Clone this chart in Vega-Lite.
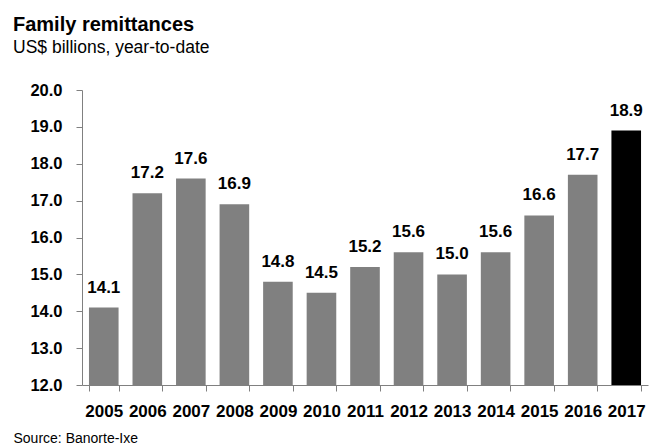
{
  "$schema": "https://vega.github.io/schema/vega-lite/v6.json",
  "width": 566,
  "height": 295,
  "autosize": "none",
  "padding": {"left": 82, "top": 90, "right": 2, "bottom": 61},
  "background": "white",
  "config": {"view": {"stroke": null}, "font": "Liberation Sans"},
  "title": {
    "text": "Family remittances",
    "subtitle": "US$ billions, year-to-date",
    "anchor": "start",
    "frame": "group",
    "dx": -69,
    "offset": 26,
    "font": "Liberation Sans",
    "fontSize": 20,
    "fontWeight": "bold",
    "color": "#000000",
    "subtitleFont": "Liberation Sans",
    "subtitleFontSize": 17.5,
    "subtitleColor": "#000000",
    "subtitlePadding": 4
  },
  "data": {
    "values": [
      {"year": "2005", "value": 14.1, "hl": "no"},
      {"year": "2006", "value": 17.2, "hl": "no"},
      {"year": "2007", "value": 17.6, "hl": "no"},
      {"year": "2008", "value": 16.9, "hl": "no"},
      {"year": "2009", "value": 14.8, "hl": "no"},
      {"year": "2010", "value": 14.5, "hl": "no"},
      {"year": "2011", "value": 15.2, "hl": "no"},
      {"year": "2012", "value": 15.6, "hl": "no"},
      {"year": "2013", "value": 15.0, "hl": "no"},
      {"year": "2014", "value": 15.6, "hl": "no"},
      {"year": "2015", "value": 16.6, "hl": "no"},
      {"year": "2016", "value": 17.7, "hl": "no"},
      {"year": "2017", "value": 18.9, "hl": "yes"}
    ]
  },
  "encoding": {
    "x": {
      "field": "year",
      "type": "nominal",
      "scale": {"paddingInner": 0.32, "paddingOuter": 0.16},
      "axis": {
        "title": "Source: Banorte-Ixe",
        "titleFont": "Liberation Sans",
        "titleFontSize": 14,
        "titleFontWeight": "normal",
        "titleColor": "#000000",
        "titleAlign": "left",
        "titleAnchor": "start",
        "titleBaseline": "alphabetic",
        "titleX": -69,
        "titleY": 57,
        "labelAngle": 0,
        "labelFont": "Liberation Sans",
        "labelFontSize": 17,
        "labelFontWeight": "bold",
        "labelColor": "#000000",
        "labelPadding": 12,
        "tickBand": "extent",
        "tickSize": 6,
        "tickColor": "#808080",
        "domainColor": "#808080",
        "grid": false
      }
    },
    "y": {
      "field": "value",
      "type": "quantitative",
      "scale": {"domain": [12, 20], "zero": false, "nice": false},
      "axis": {
        "title": null,
        "values": [12, 13, 14, 15, 16, 17, 18, 19, 20],
        "format": ".1f",
        "labelFont": "Liberation Sans",
        "labelFontSize": 16.5,
        "labelFontWeight": "bold",
        "labelColor": "#000000",
        "labelPadding": 14,
        "tickSize": 6,
        "tickColor": "#808080",
        "domainColor": "#808080",
        "grid": false
      }
    }
  },
  "layer": [
    {
      "mark": {"type": "bar"},
      "encoding": {
        "y2": {"datum": 12},
        "color": {
          "field": "hl",
          "type": "nominal",
          "scale": {"domain": ["no", "yes"], "range": ["#808080", "#000000"]},
          "legend": null
        }
      }
    },
    {
      "mark": {"type": "text", "baseline": "alphabetic", "dy": -15, "font": "Liberation Sans", "fontSize": 17, "fontWeight": "bold", "color": "#000000"},
      "encoding": {
        "text": {"field": "value", "type": "quantitative", "format": ".1f"}
      }
    }
  ]
}
